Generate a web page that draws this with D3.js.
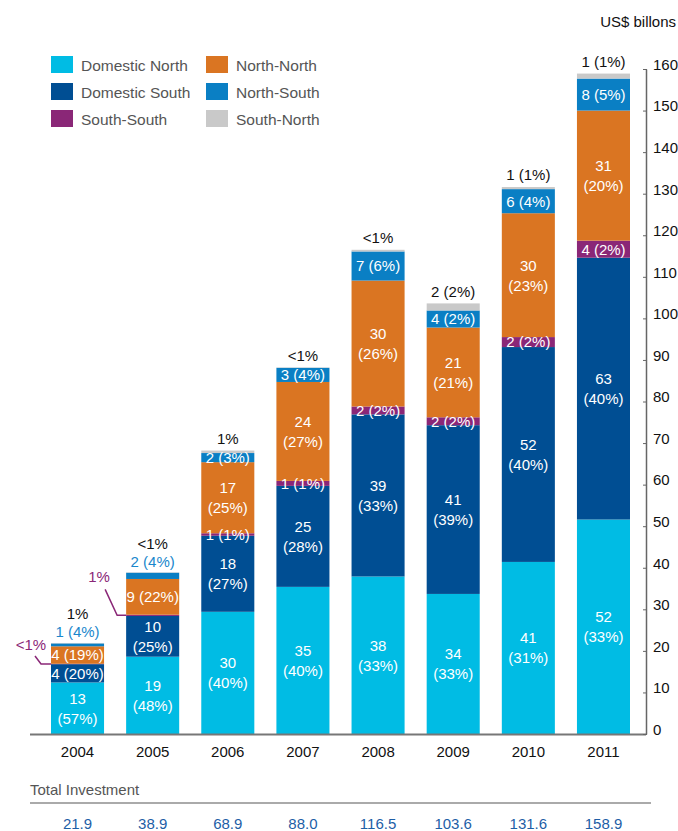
<!DOCTYPE html>
<html>
<head>
<meta charset="utf-8">
<script src="https://cdn.jsdelivr.net/npm/d3@7"></script>
<style>
  body { margin: 0; background: #fff; }
  svg text { font-family: "Liberation Sans", Arial, Helvetica, sans-serif; }
</style>
</head>
<body>
<div id="chart"></div>
<script>

var width = 678;
var height = 831;

// data (US$ billions)
var years = ["2004", "2005", "2006", "2007", "2008", "2009", "2010", "2011"];
var series = ["Domestic North", "Domestic South", "South-South", "North-North", "North-South", "South-North"];
var domesticNorth = [12.4, 18.6, 29.4, 35.4, 37.9, 33.7, 41.4, 51.6];
var domesticSouth = [4.4, 9.8, 18.3, 24.3, 39.0, 40.6, 51.7, 63.0];
var southSouth    = [0.1, 0.3, 0.6, 1.2, 1.9, 1.9, 2.4, 4.1];
var northNorth    = [4.2, 8.6, 17.1, 23.8, 30.3, 21.6, 29.8, 31.3];
var northSouth    = [0.7, 1.5, 2.2, 3.4, 7.0, 4.1, 5.8, 7.7];
var southNorth    = [0.1, 0.1, 0.6, 0.1, 0.4, 1.7, 0.5, 1.2];
var totals = ["21.9", "38.9", "68.9", "88.0", "116.5", "103.6", "131.6", "158.9"];

// labels as printed
var dnLabels = ["13|(57%)", "19|(48%)", "30|(40%)", "35|(40%)", "38|(33%)", "34|(33%)", "41|(31%)", "52|(33%)"];
var dsLabels = ["4 (20%)", "10|(25%)", "18|(27%)", "25|(28%)", "39|(33%)", "41|(39%)", "52|(40%)", "63|(40%)"];
var ssLabels = ["<1%", "1%", "1 (1%)", "1 (1%)", "2 (2%)", "2 (2%)", "2 (2%)", "4 (2%)"];
var nnLabels = ["4 (19%)", "9 (22%)", "17|(25%)", "24|(27%)", "30|(26%)", "21|(21%)", "30|(23%)", "31|(20%)"];
var nsLabels = ["1 (4%)", "2 (4%)", "2 (3%)", "3 (4%)", "7 (6%)", "4 (2%)", "6 (4%)", "8 (5%)"];
var snLabels = ["1%", "<1%", "1%", "<1%", "<1%", "2 (2%)", "1 (1%)", "1 (1%)"];
var yTicks = [0, 10, 20, 30, 40, 50, 60, 70, 80, 90, 100, 110, 120, 130, 140, 150, 160];

var colors = ["#00bce4", "#004e93", "#8a2777", "#da7522", "#0a7fc4", "#c9c9c9"];
var purple = "#8a2777";

var rows = years.map(function(y, i) {
  return {
    year: y,
    "Domestic North": domesticNorth[i],
    "Domestic South": domesticSouth[i],
    "South-South": southSouth[i],
    "North-North": northNorth[i],
    "North-South": northSouth[i],
    "South-North": southNorth[i]
  };
});
var labelSets = [dnLabels, dsLabels, ssLabels, nnLabels, nsLabels, snLabels];

var svg = d3.select("#chart").append("svg")
  .attr("width", width)
  .attr("height", height);

var x = d3.scaleBand()
  .domain(years)
  .range([51, 630])
  .paddingInner(0.294)
  .paddingOuter(0);

var y = d3.scaleLinear()
  .domain([0, 160])
  .range([734, 69]);

var stack = d3.stack().keys(series)(rows);

// bars
var layers = svg.selectAll(".layer")
  .data(stack)
  .enter().append("g")
  .attr("class", "layer")
  .attr("fill", function(d, i) { return colors[i]; });

layers.selectAll("rect")
  .data(function(d) { return d; })
  .enter().append("rect")
  .attr("x", function(d) { return x(d.data.year); })
  .attr("y", function(d) { return y(d[1]); })
  .attr("width", x.bandwidth())
  .attr("height", function(d) { return y(d[0]) - y(d[1]); });

// baseline
svg.append("line")
  .attr("x1", 30).attr("x2", 646)
  .attr("y1", y(0) + 0.5).attr("y2", y(0) + 0.5)
  .attr("stroke", "#777").attr("stroke-width", 2);

// y axis on the right
var yAxis = svg.append("g")
  .attr("transform", "translate(646,0)")
  .call(d3.axisRight(y).tickValues(yTicks).tickSize(0).tickPadding(7));
yAxis.select(".domain").attr("stroke", "#666").attr("stroke-width", 1.5);
yAxis.selectAll(".tick text")
  .attr("font-size", 15)
  .attr("fill", "#111")
  .attr("dy", "0.02em");
yAxis.selectAll(".tick").append("line")
  .attr("x1", -3).attr("x2", 1)
  .attr("stroke", "#666").attr("stroke-width", 1);

svg.append("text")
  .attr("x", 676).attr("y", 27)
  .attr("text-anchor", "end")
  .attr("font-size", 15)
  .attr("fill", "#111")
  .text("US$ billons");

// segment labels
function drawLabel(cx, cy, txt, color) {
  var parts = txt.split("|");
  var t = svg.append("text")
    .attr("text-anchor", "middle")
    .attr("font-size", 15)
    .attr("fill", color);
  if (parts.length == 2) {
    t.append("tspan").attr("x", cx).attr("y", cy - 10).attr("dy", "0.36em").text(parts[0]);
    t.append("tspan").attr("x", cx).attr("y", cy + 10).attr("dy", "0.36em").text(parts[1]);
  } else {
    t.attr("x", cx).attr("y", cy).attr("dy", "0.36em").text(txt);
  }
}

stack.forEach(function(layer, si) {
  layer.forEach(function(d, i) {
    var cx = x(d.data.year) + x.bandwidth() / 2;
    var top = y(d[1]), bot = y(d[0]);
    var txt = labelSets[si][i];
    var barTop = y(stack[5][i][1]);
    if (si == 5) {
      // above the bar
      var nsH = y(stack[4][i][0]) - y(stack[4][i][1]);
      var ty = nsH < 8 ? barTop - 29 : barTop - 12;
      drawLabel(cx, ty, txt, "#111");
    } else if (si == 4) {
      var h = bot - top;
      if (h < 8) drawLabel(cx, barTop - 11, txt, "#1a87cc");
      else drawLabel(cx, (top + bot) / 2, txt, "#fff");
    } else if (si == 2) {
      var ssH = bot - top;
      var bx = x(d.data.year);
      if (ssH < 2) {
        // callout to the left of the bar
        var c = i == 0
          ? { tx: -20, ty: -19, p: [[-16, -8], [-10, 0], [0, 0]] }
          : { tx: -27, ty: -39, p: [[-21, -26], [-9, 0], [0, 0]] };
        var yy = (top + bot) / 2;
        svg.append("path")
          .attr("d", d3.line()(c.p.map(function(p) { return [bx + p[0], yy + p[1]]; })))
          .attr("fill", "none")
          .attr("stroke", purple)
          .attr("stroke-width", 1.5);
        drawLabel(bx + c.tx, yy + c.ty, txt, purple);
      } else {
        drawLabel(cx, (top + bot) / 2, txt, "#fff");
      }
    } else {
      drawLabel(cx, (top + bot) / 2, txt, "#fff");
    }
  });
});

// year labels
svg.selectAll(".year")
  .data(years)
  .enter().append("text")
  .attr("class", "year")
  .attr("x", function(d) { return x(d) + x.bandwidth() / 2; })
  .attr("y", 757)
  .attr("text-anchor", "middle")
  .attr("font-size", 15)
  .attr("fill", "#111")
  .text(function(d) { return d; });

// total investment row
svg.append("text")
  .attr("x", 30).attr("y", 795)
  .attr("font-size", 15)
  .attr("fill", "#555")
  .text("Total Investment");

svg.append("line")
  .attr("x1", 30).attr("x2", 651)
  .attr("y1", 803).attr("y2", 803)
  .attr("stroke", "#aaa").attr("stroke-width", 2);

svg.selectAll(".total")
  .data(totals)
  .enter().append("text")
  .attr("class", "total")
  .attr("x", function(d, i) { return x(years[i]) + x.bandwidth() / 2; })
  .attr("y", 829)
  .attr("text-anchor", "middle")
  .attr("font-size", 15)
  .attr("fill", "#1d5ea6")
  .text(function(d) { return d; });

// legend
var legend = svg.append("g");
series.forEach(function(s, i) {
  var col = i < 3 ? 0 : 1;
  var row = i % 3;
  var lx = col == 0 ? 51 : 206;
  var ly = 56 + row * 27;
  legend.append("rect")
    .attr("x", lx).attr("y", ly)
    .attr("width", 22).attr("height", 17)
    .attr("fill", colors[i]);
  legend.append("text")
    .attr("x", lx + 30).attr("y", ly + 9)
    .attr("dy", "0.36em")
    .attr("font-size", 15.5)
    .attr("fill", "#555")
    .text(s);
});

</script>
</body>
</html>
